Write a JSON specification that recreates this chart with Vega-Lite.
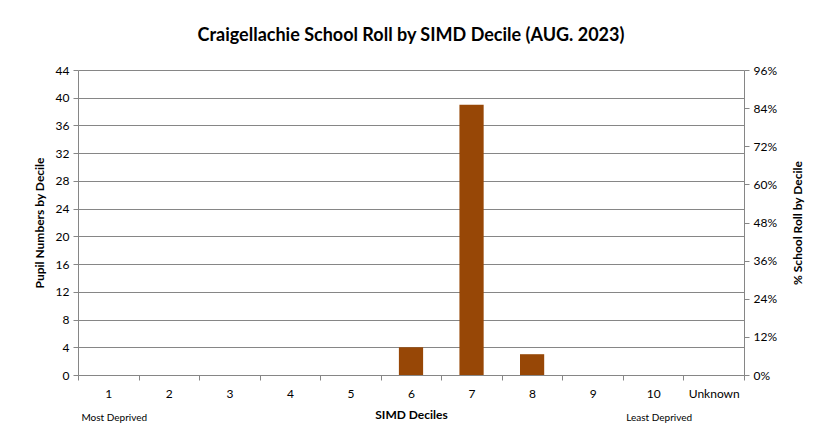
{
  "$schema": "https://vega.github.io/schema/vega-lite/v6.json",
  "autosize": {"type": "none"},
  "width": 666,
  "height": 305,
  "padding": {"left": 78, "top": 70, "right": 81, "bottom": 66},
  "background": "white",
  "title": {
    "text": "Craigellachie School Roll by SIMD Decile (AUG. 2023)",
    "font": "Lato",
    "fontSize": 18,
    "fontWeight": "bold",
    "color": "#000000",
    "anchor": "middle",
    "offset": 19
  },
  "config": {
    "view": {"stroke": null},
    "axis": {
      "labelFont": "Lato",
      "titleFont": "Lato",
      "labelColor": "#000000",
      "titleColor": "#000000",
      "domainColor": "#868686",
      "tickColor": "#868686",
      "gridColor": "#868686",
      "labelFontSize": 12,
      "titleFontSize": 12,
      "titleFontWeight": "bold"
    }
  },
  "datasets": {
    "roll": [
      {"decile": "1", "n": 0, "pct": 0},
      {"decile": "2", "n": 0, "pct": 0},
      {"decile": "3", "n": 0, "pct": 0},
      {"decile": "4", "n": 0, "pct": 0},
      {"decile": "5", "n": 0, "pct": 0},
      {"decile": "6", "n": 4, "pct": 0.087},
      {"decile": "7", "n": 39, "pct": 0.848},
      {"decile": "8", "n": 3, "pct": 0.065},
      {"decile": "9", "n": 0, "pct": 0},
      {"decile": "10", "n": 0, "pct": 0},
      {"decile": "Unknown", "n": 0, "pct": 0}
    ],
    "notes": [
      {"decile": "1", "note": "Most Deprived"},
      {"decile": "10", "note": "Least Deprived"}
    ]
  },
  "encoding": {
    "x": {
      "field": "decile",
      "type": "nominal",
      "sort": null,
      "scale": {"domain": ["1","2","3","4","5","6","7","8","9","10","Unknown"], "paddingInner": 0, "paddingOuter": 0},
      "axis": {
        "title": "SIMD Deciles",
        "labelAngle": 0,
        "tickBand": "extent",
        "tickSize": 5,
        "labelPadding": 8,
        "titlePadding": 10,
        "grid": false
      }
    }
  },
  "layer": [
    {
      "data": {"name": "roll"},
      "mark": {"type": "bar", "color": "#974706", "width": {"band": 0.4}},
      "encoding": {
        "y": {
          "field": "n",
          "type": "quantitative",
          "scale": {"domain": [0, 44], "nice": false},
          "axis": {
            "title": "Pupil Numbers by Decile",
            "values": [0,4,8,12,16,20,24,28,32,36,40,44],
            "grid": true,
            "tickSize": 5,
            "labelPadding": 4,
            "titlePadding": 9
          }
        }
      }
    },
    {
      "data": {"name": "roll"},
      "mark": {"type": "tick", "opacity": 0},
      "encoding": {
        "y": {
          "field": "pct",
          "type": "quantitative",
          "scale": {"domain": [0, 0.96], "nice": false},
          "axis": {
            "orient": "right",
            "title": "% School Roll by Decile",
            "titleAngle": -90,
            "titleBaseline": "top",
            "format": ".0%",
            "values": [0,0.12,0.24,0.36,0.48,0.6,0.72,0.84,0.96],
            "grid": false,
            "tickSize": 5,
            "labelPadding": 4,
            "titlePadding": 16
          }
        }
      }
    },
    {
      "data": {"name": "notes"},
      "mark": {"type": "text", "font": "Lato", "fontSize": 10, "color": "#000000", "dy": 43, "dx": 6},
      "encoding": {
        "y": {"datum": 0, "type": "quantitative", "scale": {"domain": [0, 44], "nice": false}, "axis": null},
        "text": {"field": "note"}
      }
    }
  ],
  "resolve": {"scale": {"y": "independent"}}
}
